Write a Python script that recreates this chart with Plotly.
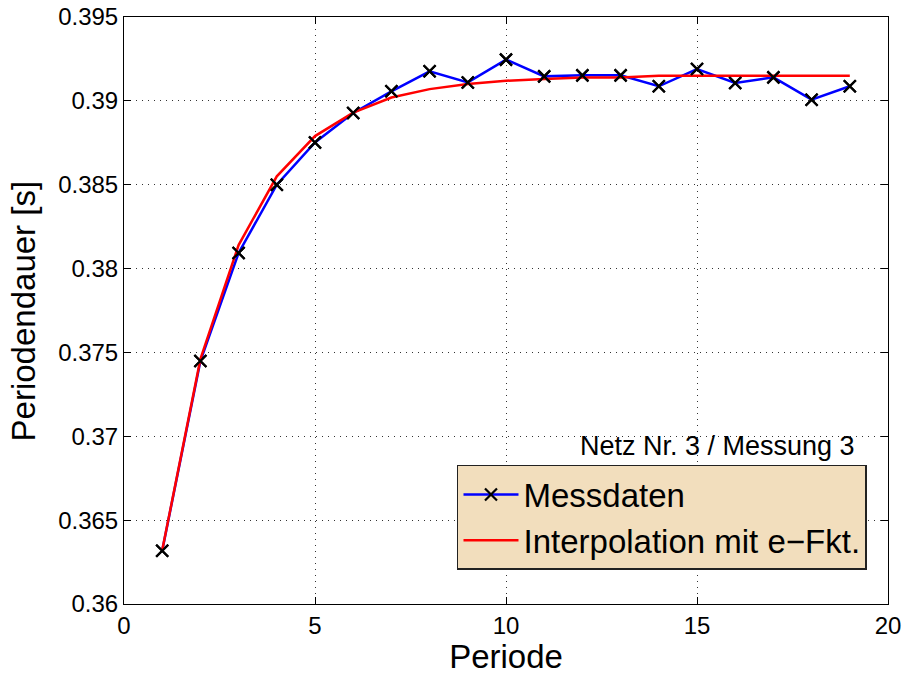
import plotly.graph_objects as go

periode = list(range(1, 20))
messdaten = [0.36318, 0.37449, 0.38093, 0.38500, 0.38752, 0.38928, 0.39057,
             0.39176, 0.39110, 0.39246, 0.39146, 0.39152, 0.39152, 0.39087,
             0.39190, 0.39107, 0.39140, 0.39007, 0.39087]
interpolation = [0.3632, 0.3746, 0.3814, 0.3855, 0.3879, 0.3893, 0.3902,
                 0.3907, 0.3910, 0.3912, 0.3913, 0.3914, 0.3914, 0.3915,
                 0.3915, 0.3915, 0.3915, 0.3915, 0.3915]

y_ticks = [0.36, 0.365, 0.37, 0.375, 0.38, 0.385, 0.39, 0.395]
y_ticktext = ["0.36", "0.365", "0.37", "0.375", "0.38", "0.385", "0.39", "0.395"]
x_ticks = [0, 5, 10, 15, 20]

FONT = "Liberation Sans, Arial, Helvetica, sans-serif"

fig = go.Figure()
fig.add_trace(go.Scatter(
    x=periode, y=messdaten, mode="lines+markers", name="Messdaten",
    line=dict(color="#0000FF", width=2.5),
    marker=dict(symbol="x-thin", size=12, color="black",
                line=dict(color="black", width=2.2)),
))
fig.add_trace(go.Scatter(
    x=periode, y=interpolation, mode="lines", name="Interpolation mit e\u2212Fkt.",
    line=dict(color="#FF0000", width=2.5),
))
fig.add_trace(go.Scatter(
    x=periode, y=messdaten, mode="markers", showlegend=False, hoverinfo="skip",
    marker=dict(symbol="x-thin", size=12, color="black",
                line=dict(color="black", width=2.2)),
))

axis_common = dict(
    showline=True, linecolor="black", linewidth=1, mirror="ticks",
    ticks="inside", ticklen=7, tickcolor="black", tickwidth=1,
    showgrid=True, gridcolor="#333333", gridwidth=1, griddash="1px,5px",
    zeroline=False, automargin=False,
    tickfont=dict(family=FONT, size=24, color="black"),
)

fig.update_xaxes(
    range=[0, 20], tickvals=x_ticks, ticktext=[str(v) for v in x_ticks],
    title=dict(text="Periode", font=dict(family=FONT, size=33, color="black"),
               standoff=0),
    **axis_common,
)
fig.update_yaxes(
    range=[0.36, 0.395], tickvals=y_ticks, ticktext=y_ticktext,
    **axis_common,
)

fig.add_annotation(
    text="Periodendauer [s]", xref="paper", yref="paper",
    x=-0.131, y=0.5, xanchor="center", yanchor="middle", textangle=-90,
    showarrow=False, font=dict(family=FONT, size=33, color="black"),
)

fig.add_annotation(
    text="Netz Nr. 3 / Messung 3", xref="paper", yref="paper",
    x=0.9594, y=0.269, xanchor="right", yanchor="middle", showarrow=False,
    font=dict(family=FONT, size=27, color="black"),
)

fig.update_layout(
    width=906, height=675,
    margin=dict(l=124, r=18, t=17, b=71),
    paper_bgcolor="white", plot_bgcolor="white",
    font=dict(family=FONT, color="black"),
    legend=dict(
        x=0.9725, y=0.058, xanchor="right", yanchor="bottom",
        bgcolor="#F2DEBD", bordercolor="#222222", borderwidth=1.5,
        font=dict(family=FONT, size=33, color="black"),
        tracegroupgap=0, itemwidth=55,
    ),
)

fig.write_html("out.html")
